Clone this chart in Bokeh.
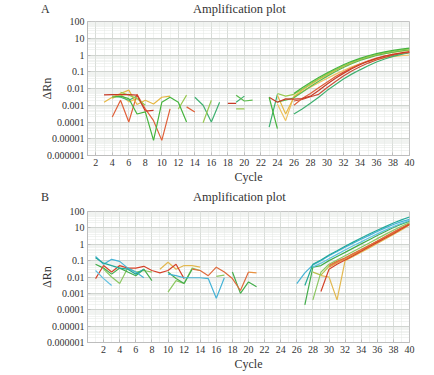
from bokeh.plotting import figure
from bokeh.layouts import column
from bokeh.models import FixedTicker, CustomJSTickFormatter, Range1d, Div
from bokeh.embed import file_html
from bokeh.resources import INLINE

nan = float("nan")

CYCLES = list(range(1, 41))
X_TICKS = list(range(2, 41, 2))
Y_TICKS = [1e-6, 1e-5, 1e-4, 1e-3, 1e-2, 1e-1, 1, 10, 100]
Y_TICK_LABELS = ["0.000001", "0.00001", "0.0001", "0.001", "0.01", "0.1", "1", "10", "100"]
TITLE = "Amplification plot"

# ---------------- Panel A (cycles 1..40) ----------------
A_RED1 = [nan, nan, 0.0042, 0.0043, 0.0043, 0.0043, 0.004, 0.00045, 0.0005, nan,
          nan, nan, nan, nan, nan, nan, nan, 0.0013, 0.0013, nan,
          nan, nan, 0.003, 0.0015, 0.0024, 0.0023, 0.0025, 0.0035, 0.0075, 0.018,
          0.04, 0.08, 0.15, 0.26, 0.42, 0.62, 0.85, 1.1, 1.35, 1.6]
A_RED2 = [nan, nan, nan, 0.0002, 0.002, 0.0001, 0.0045, 0.0006, 0.00012, 0.000008,
          0.0006, nan, 0.0008, 0.0004, nan, nan, nan, nan, nan, nan,
          nan, nan, nan, nan, nan, 0.001, 0.0025, 0.005, 0.011, 0.024,
          0.05, 0.095, 0.17, 0.29, 0.45, 0.65, 0.87, 1.08, 1.27, 1.45]
A_YEL1 = [nan, nan, 0.0015, 0.003, 0.005, 0.008, 0.0011, 0.002, 0.0012, 0.003,
          0.0035, nan, nan, nan, nan, nan, nan, nan, nan, nan,
          nan, nan, nan, 0.004, 0.0003, 0.003, 0.008, 0.017, 0.034, 0.065,
          0.12, 0.21, 0.34, 0.52, 0.74, 0.98, 1.22, 1.45, 1.68, 1.9]
A_YEL2 = [nan, nan, nan, 0.0025, 0.0045, 0.0016, 0.0025, nan, nan, nan,
          nan, nan, nan, nan, nan, nan, nan, nan, nan, nan,
          nan, nan, nan, 0.0012, 0.00012, 0.0035, 0.0065, 0.012, 0.022, 0.04,
          0.07, 0.12, 0.2, 0.3, 0.42, 0.55, 0.68, 0.8, 0.9, 1.0]
A_GRN1 = [nan, nan, nan, 0.003, 0.0035, 0.0025, 0.0003, 0.0004, 0.000008, 0.0015,
          0.003, 0.0015, 0.0001, nan, nan, nan, nan, nan, nan, nan,
          nan, nan, 0.003, 0.00004, nan, 0.005, 0.011, 0.023, 0.045, 0.085,
          0.15, 0.26, 0.42, 0.63, 0.9, 1.2, 1.55, 1.9, 2.25, 2.6]
A_GRN2 = [nan, nan, nan, nan, 0.006, 0.004, 0.0025, 0.001, nan, nan,
          nan, 0.0006, 0.004, nan, 0.00009, 0.002, nan, nan, 0.0006, 0.0006,
          nan, nan, nan, 0.005, 0.0035, 0.0045, 0.009, 0.019, 0.038, 0.072,
          0.13, 0.23, 0.37, 0.56, 0.8, 1.07, 1.37, 1.68, 2.0, 2.3]
A_GRN3 = [nan, nan, nan, 0.0035, 0.003, 0.002, 0.0035, nan, nan, nan,
          nan, nan, nan, 0.003, 0.001, 0.0001, 0.0015, nan, 0.0015, 0.0035,
          nan, nan, 0.00005, 0.0045, nan, 0.0003, 0.0006, 0.0013, 0.003, 0.0075,
          0.017, 0.037, 0.072, 0.13, 0.23, 0.38, 0.58, 0.83, 1.1, 1.4]
A_GRN4 = [nan, nan, nan, nan, nan, nan, nan, nan, nan, nan,
          nan, nan, nan, nan, nan, nan, nan, nan, 0.004, 0.0018,
          0.002, nan, nan, 0.0016, 0.002, 0.0028, 0.006, 0.013, 0.027, 0.053,
          0.1, 0.18, 0.3, 0.47, 0.68, 0.93, 1.2, 1.5, 1.78, 2.05]
A_RED3 = [nan, nan, nan, nan, nan, nan, nan, nan, nan, nan,
          nan, nan, nan, nan, nan, nan, nan, nan, nan, nan,
          nan, nan, nan, nan, nan, 0.0018, 0.0022, 0.0032, 0.0045, 0.011,
          0.025, 0.055, 0.11, 0.2, 0.33, 0.5, 0.72, 0.96, 1.2, 1.45]

A_SERIES = [A_YEL2, A_RED3, A_GRN3, A_RED2, A_YEL1, A_GRN4, A_GRN2, A_RED1, A_GRN1]
A_COLORS = ["#efc260", "#c9513a", "#3fb070", "#e0603a", "#e6b844", "#5dbb4f",
            "#98c850", "#c83a26", "#46b43e"]

# ---------------- Panel B (cycles 1..40) ----------------
B_CYAN = [0.18, 0.06, 0.12, 0.09, 0.035, 0.02, 0.009, nan, nan, 0.015,
          0.012, 0.009, 0.009, 0.009, 0.008, 0.0005, 0.009, nan, nan, nan,
          nan, nan, nan, nan, nan, 0.004, 0.018, 0.055, 0.1, 0.2,
          0.36, 0.65, 1.15, 2.0, 3.5, 6.0, 10, 16, 24, 33]
B_TEAL = [0.15, 0.07, 0.05, 0.035, 0.03, 0.015, 0.03, nan, nan, nan,
          nan, nan, nan, nan, nan, nan, nan, nan, nan, nan,
          nan, nan, nan, nan, nan, nan, 0.003, 0.06, 0.11, 0.22,
          0.4, 0.75, 1.35, 2.4, 4.2, 7.2, 12, 20, 31, 46]
B_SKY = [0.025, 0.008, 0.003, nan, nan, nan, nan, nan, nan, nan,
         nan, nan, nan, nan, nan, nan, nan, nan, nan, nan,
         nan, nan, nan, nan, nan, nan, nan, 0.04, 0.07, 0.13,
         0.24, 0.45, 0.8, 1.4, 2.5, 4.3, 7.3, 12, 19, 28]
B_RED = [0.008, 0.05, 0.02, 0.05, 0.035, 0.035, 0.045, 0.025, 0.018, 0.025,
         0.06, 0.008, nan, nan, nan, nan, nan, nan, nan, nan,
         nan, nan, nan, nan, nan, nan, nan, nan, 0.0013, 0.03,
         0.06, 0.11, 0.2, 0.37, 0.7, 1.3, 2.4, 4.4, 8.5, 16]
B_ORRED = [nan, nan, nan, nan, nan, nan, nan, nan, nan, nan,
           nan, nan, 0.03, 0.025, 0.012, 0.04, 0.02, 0.008, 0.0015, 0.02,
           nan, nan, nan, nan, nan, nan, nan, nan, nan, 0.05,
           0.09, 0.15, 0.27, 0.48, 0.88, 1.6, 3.0, 5.5, 10, 18]
B_YEL = [nan, nan, nan, nan, nan, nan, nan, nan, 0.03, 0.08,
         0.03, 0.05, 0.05, 0.04, nan, nan, nan, nan, nan, nan,
         nan, nan, nan, nan, nan, nan, nan, nan, 0.012, 0.01,
         0.0004, 0.1, 0.18, 0.33, 0.6, 1.1, 2.1, 4.0, 7.5, 15]
B_GRN = [0.06, 0.035, 0.015, 0.035, 0.02, 0.012, 0.03, 0.006, nan, 0.02,
         0.008, 0.004, 0.03, nan, nan, nan, nan, 0.02, 0.001, 0.005,
         0.0025, nan, nan, nan, nan, nan, 0.0002, 0.04, 0.05, 0.1,
         0.18, 0.32, 0.58, 1.05, 1.9, 3.4, 6.0, 10.5, 17, 26]
B_LGRN = [nan, 0.03, 0.01, 0.004, 0.035, 0.02, 0.025, 0.02, nan, 0.0012,
          0.006, 0.004, 0.035, 0.025, nan, 0.011, 0.013, nan, nan, nan,
          nan, nan, nan, nan, nan, nan, nan, 0.0004, 0.02, 0.06,
          0.11, 0.2, 0.36, 0.65, 1.2, 2.2, 4.0, 7.2, 12.5, 21]
B_OLIVE = [nan, nan, nan, nan, nan, nan, nan, nan, nan, nan,
           nan, nan, nan, nan, nan, nan, nan, nan, nan, nan,
           nan, nan, nan, nan, nan, nan, nan, 0.02, 0.013, 0.045,
           0.08, 0.14, 0.25, 0.46, 0.85, 1.55, 2.9, 5.3, 9.5, 17]
B_ORANGE = [nan, nan, nan, nan, nan, nan, nan, nan, nan, nan,
            nan, nan, nan, nan, nan, nan, nan, nan, nan, 0.02,
            0.018, nan, nan, nan, nan, nan, nan, nan, nan, 0.04,
            0.075, 0.13, 0.23, 0.42, 0.78, 1.45, 2.7, 5.0, 9.2, 17]

B_SERIES = [B_OLIVE, B_ORANGE, B_YEL, B_LGRN, B_GRN, B_ORRED, B_RED, B_SKY, B_CYAN, B_TEAL]
B_COLORS = ["#b9bf4c", "#e8913f", "#e2b850", "#8cc761", "#44ad4c", "#df6a3c",
            "#d4432a", "#62c2e2", "#45b3d6", "#25a99a"]

FONT = "'Liberation Serif'"


def header(letter, height):
    html = (
        f'<div style="position:relative;width:426px;height:{height}px;'
        f"font-family:'Liberation Serif',serif;color:#333;line-height:14px;\">"
        f'<span style="position:absolute;left:41px;top:2px;font-size:12px">{letter}</span>'
        f'<span style="position:absolute;left:193px;top:2px;font-size:12.5px">{TITLE}</span>'
        f'</div>'
    )
    return Div(text=html, width=426, height=height, margin=0)


def make_panel(x_range, series, colors, width, height, bl, br, bt, bb):
    p = figure(width=width, height=height, x_range=x_range,
               y_range=Range1d(1e-6, 100), y_axis_type="log",
               output_backend="svg", toolbar_location=None,
               min_border_left=bl, min_border_right=br,
               min_border_top=bt, min_border_bottom=bb)
    for s, c in zip(series, colors):
        p.line(CYCLES, s, line_color=c, line_width=1.2)

    p.xaxis.ticker = FixedTicker(ticks=X_TICKS, minor_ticks=CYCLES)
    p.yaxis.ticker = FixedTicker(
        ticks=Y_TICKS,
        minor_ticks=[m * 10 ** e for e in range(-6, 2) for m in range(2, 10)])
    p.yaxis.formatter = CustomJSTickFormatter(
        args=dict(yt=Y_TICKS, yl=Y_TICK_LABELS),
        code="""
        const k = Math.round(Math.log10(tick));
        for (let i = 0; i < yt.length; i++) {
            if (Math.round(Math.log10(yt[i])) == k) return yl[i];
        }
        return "";
        """)
    for ax in (p.xaxis[0], p.yaxis[0]):
        ax.axis_line_color = "#bdbdbd"
        ax.major_tick_out = 0
        ax.major_tick_in = 3
        ax.minor_tick_in = 0
        ax.minor_tick_out = 0
        ax.major_tick_line_color = "#bdbdbd"
        ax.major_label_text_font = FONT
        ax.major_label_text_font_size = "10px"
        ax.major_label_text_color = "#333333"
        ax.axis_label_text_font = FONT
        ax.axis_label_text_font_size = "12px"
        ax.axis_label_text_font_style = "normal"
        ax.axis_label_text_color = "#333333"
    p.xaxis.axis_label = "Cycle"
    p.xaxis.major_label_standoff = 3
    p.xaxis.axis_label_standoff = 1
    p.yaxis.axis_label = "ΔRn"
    p.yaxis.major_label_standoff = 3
    p.yaxis.axis_label_standoff = -10

    p.xgrid.grid_line_color = "#d8dcd8"
    p.ygrid.grid_line_color = "#d0d4d0"
    p.xgrid.minor_grid_line_color = "#e2e6e2"
    p.ygrid.minor_grid_line_color = "#e2e6e2"
    p.xgrid.minor_grid_line_dash = "1 1"
    p.ygrid.minor_grid_line_dash = "1 1"
    p.outline_line_color = "#c4c4c4"
    p.background_fill_color = "white"
    p.border_fill_color = "white"
    return p


hA = header("A", 17)
pA = make_panel(Range1d(1, 40), A_SERIES, A_COLORS, 426, 171, 83, 16, 4, 33)
hB = header("B", 17)
pB = make_panel(Range1d(0, 40), B_SERIES, B_COLORS, 426, 169, 87, 17, 6, 32)

layout = column(hA, pA, hB, pB, spacing=0)
open("out.html", "w").write(file_html(layout, INLINE))
